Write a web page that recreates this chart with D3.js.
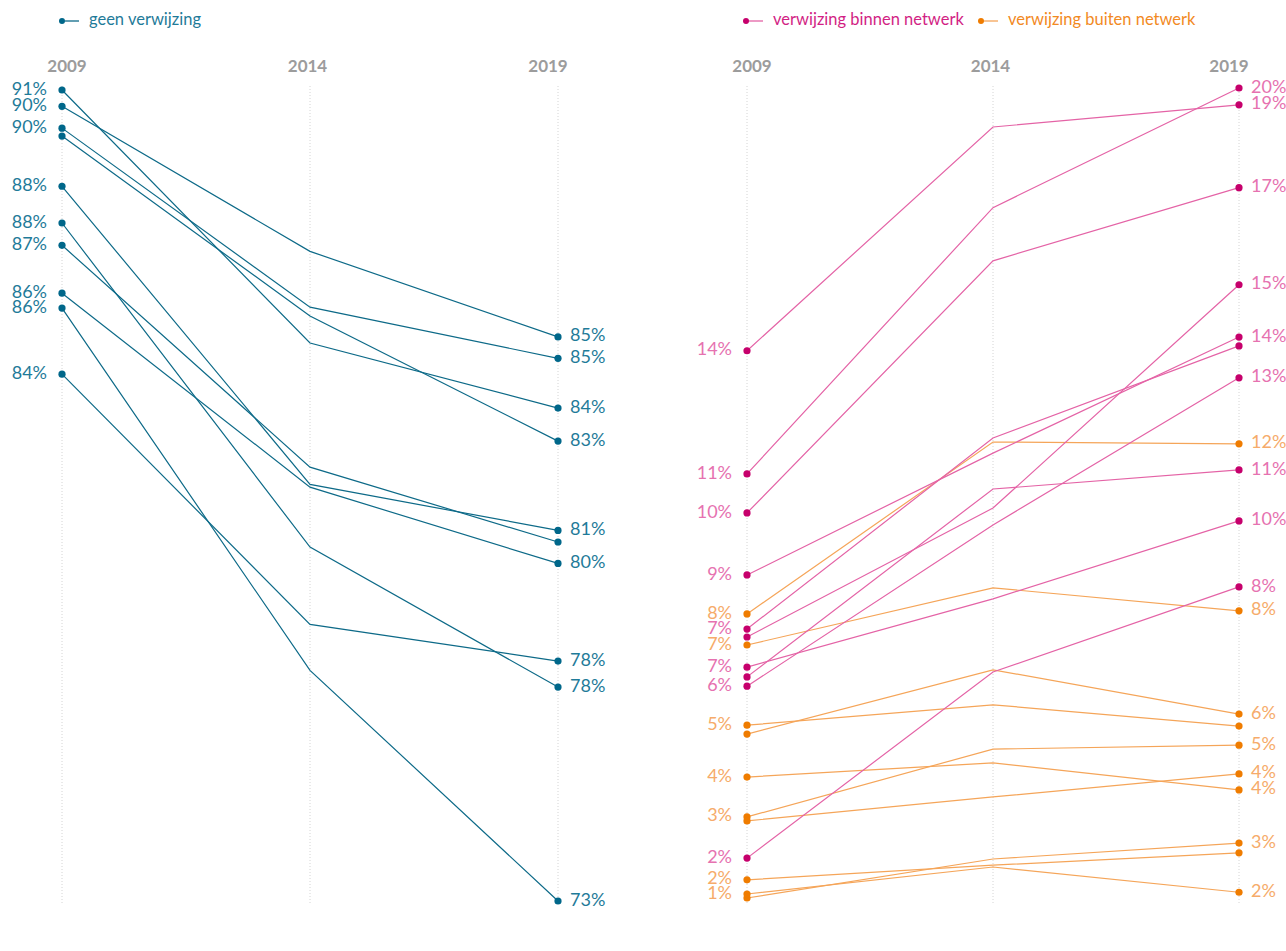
<!DOCTYPE html>
<html>

<head>
    <meta charset="utf-8">
    <script src="https://d3js.org/d3.v7.min.js"></script>
    <style>
        body { margin: 0; background: #fff; }
        text { font-family: Lato, "Open Sans", sans-serif; }
    </style>
</head>

<body>
    <script>
        // jaren (kolommen)
        const years = ["2009", "2014", "2019"];

        // geen verwijzing, per lijn: waarden 2009, 2014, 2019 (%)
        const geenVerwijzing = [
            [90.53, 85.09, 83.69],
            [90.18, 87.06, 85.22],
            [89.71, 85.86, 84.76],
            [89.54, 85.67, 82.98],
            [88.46, 82.05, 81.06],
            [87.67, 80.70, 77.69],
            [87.19, 82.42, 80.81],
            [86.16, 81.99, 80.35],
            [85.84, 78.05, 73.09],
            [84.42, 79.04, 78.25]
        ];

        // verwijzing binnen netwerk
        const binnenNetwerk = [
            [13.75, 18.80, 19.30],
            [10.97, 16.98, 19.68],
            [10.09, 15.78, 17.43],
            [7.47, 11.78, 13.86],
            [8.69, 11.44, 14.06],
            [6.39, 10.63, 11.06],
            [7.29, 10.20, 15.24],
            [6.18, 9.82, 13.14],
            [6.61, 8.15, 9.91],
            [2.30, 6.50, 8.42]
        ];

        // verwijzing buiten netwerk
        const buitenNetwerk = [
            [7.81, 11.69, 11.65],
            [7.11, 8.40, 7.88],
            [5.10, 6.55, 5.55],
            [5.30, 5.76, 5.28],
            [3.23, 4.76, 4.85],
            [4.13, 4.45, 3.84],
            [3.14, 3.68, 4.20],
            [1.40, 2.28, 2.64],
            [1.81, 2.14, 2.42],
            [1.49, 2.10, 1.53]
        ];

        const width = 1286, height = 951;

        const colors = {
            geen: { line: "#0d6a88", dot: "#00678a", label: "#1f7b99", legend: "#1f7b99" },
            binnen: { line: "#e463a6", dot: "#c6006c", label: "#e672b0", legend: "#d21f84" },
            buiten: { line: "#f5a559", dot: "#ef7c00", label: "#f6ab6a", legend: "#f28a1f" }
        };

        const svg = d3.select("body").append("svg")
            .attr("width", width)
            .attr("height", height);

        const fmt = v => d3.format(".0f")(v) + "%";

        // één paneel tekenen: series = [{rows, c}]
        function drawPanel(series, xRange, yRange) {
            const all = series.flatMap(s => s.rows.flat());
            const x = d3.scalePoint().domain(years).range(xRange);
            const y = d3.scaleLinear().domain(d3.extent(all)).range(yRange);

            const g = svg.append("g");

            // stippellijnen per jaar
            g.selectAll("line.grid")
                .data(years)
                .join("line")
                .attr("class", "grid")
                .attr("x1", d => x(d)).attr("x2", d => x(d))
                .attr("y1", 86).attr("y2", 905)
                .attr("stroke", "#d4d4d4")
                .attr("stroke-width", 1)
                .attr("stroke-dasharray", "1,2");

            // jaartallen (eerste iets naar rechts, laatste iets naar links)
            const hx = d3.scalePoint().domain(years).range([xRange[0] + 5, xRange[1] - 10]);
            g.selectAll("text.year")
                .data(years)
                .join("text")
                .attr("class", "year")
                .attr("x", d => hx(d))
                .attr("y", 68)
                .attr("text-anchor", "middle")
                .attr("dominant-baseline", "middle")
                .attr("font-size", 17)
                .attr("font-weight", 700)
                .attr("fill", "#9c9c9c")
                .text(d => d);

            const line = d3.line().x((d, i) => x(years[i])).y(d => y(d));

            series.forEach(s => {
                g.append("g").selectAll("path")
                    .data(s.rows)
                    .join("path")
                    .attr("d", line)
                    .attr("fill", "none")
                    .attr("stroke", s.c.line)
                    .attr("stroke-width", 1.2);
            });

            series.forEach(s => {
                const pts = s.rows.flatMap(r => [0, 2].map(i => ({ i, v: r[i] })));
                g.append("g").selectAll("circle")
                    .data(pts)
                    .join("circle")
                    .attr("cx", d => x(years[d.i]))
                    .attr("cy", d => y(d.v))
                    .attr("r", 3.6)
                    .attr("fill", s.c.dot);
            });

            // labels links (2009) en rechts (2019), overlap verbergen
            [0, 2].forEach(i => {
                const labs = series.flatMap(s => s.rows.map(r => ({ v: r[i], c: s.c })))
                    .sort((a, b) => b.v - a.v);
                let last = -1e9;
                labs.forEach(l => {
                    const py = y(l.v);
                    l.show = py - last >= 12;
                    if (l.show) last = py;
                });
                g.append("g").selectAll("text")
                    .data(labs.filter(l => l.show))
                    .join("text")
                    .attr("x", i === 0 ? x(years[0]) - 15 : x(years[2]) + 12)
                    .attr("y", d => y(d.v))
                    .attr("text-anchor", i === 0 ? "end" : "start")
                    .attr("dominant-baseline", "middle")
                    .attr("font-size", 18)
                    .attr("fill", d => d.c.label)
                    .text(d => fmt(d.v));
            });
        }

        drawPanel([{ rows: geenVerwijzing, c: colors.geen }], [62, 558], [901, 90]);
        drawPanel([{ rows: buitenNetwerk, c: colors.buiten }, { rows: binnenNetwerk, c: colors.binnen }], [747, 1239], [898, 88]);

        // legenda
        const legend = [
            { name: "geen verwijzing", c: colors.geen, x: 62 },
            { name: "verwijzing binnen netwerk", c: colors.binnen, x: 746 },
            { name: "verwijzing buiten netwerk", c: colors.buiten, x: 981 }
        ];
        const lg = svg.selectAll("g.legend")
            .data(legend)
            .join("g")
            .attr("class", "legend")
            .attr("transform", d => `translate(${d.x},21)`);
        lg.append("circle").attr("r", 3).attr("fill", d => d.c.dot);
        lg.append("line")
            .attr("x1", 3).attr("x2", 17)
            .attr("stroke", d => d.c.line)
            .attr("stroke-width", 1.3);
        lg.append("text")
            .attr("x", 27)
            .attr("dominant-baseline", "middle")
            .attr("font-size", 16.5)
            .attr("fill", d => d.c.legend)
            .text(d => d.name);
    </script>
</body>

</html>
